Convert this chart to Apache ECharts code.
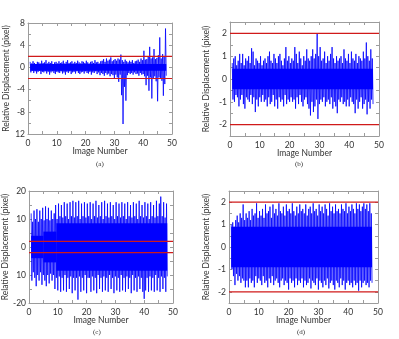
<!DOCTYPE html>
<html><head><meta charset="utf-8">
<script src="https://cdn.jsdelivr.net/npm/echarts@6/dist/echarts.min.js"></script>
<style>html,body{margin:0;padding:0;background:#fff}#c{width:399px;height:339px}</style>
</head><body><div id="c"></div>
<script>
// ---- data ----
const xTickValues = [0, 10, 20, 30, 40, 50];
const xTickLabels = ['0', '10', '20', '30', '40', '50'];
const xAxisTitle = 'Image Number';
const yAxisTitle = 'Relative Displacement (pixel)';
const panelCaptions = ['(a)', '(b)', '(c)', '(d)'];

const yTickValuesA = [-12, -8, -4, 0, 4, 8];
const yTickLabelsA = ['12', '-8', '-4', '0', '4', '8'];
const yTickValuesB = [-2, -1, 0, 1, 2];
const yTickLabelsB = ['-2', '-1', '0', '1', '2'];
const yTickValuesC = [-20, -10, 0, 10, 20];
const yTickLabelsC = ['-20', '10', '0', '10', '20'];
const yTickValuesD = [-2, -1, 0, 1, 2];
const yTickLabelsD = ['-2', '-1', '0', '1', '2'];

const thresholdA = [2, -2];
const thresholdB = [2, -2];
const thresholdC = [2, -2];
const thresholdD = [2, -2];

// extent of the solid (densely overdrawn) core of each band: [fromImage, toImage, upper, lower]
const coreA = [[0.75, 48, 0.6, -0.6]];
const coreB = [[0.75, 48, 0.45, -0.45]];
const coreC = [[0.75, 5, 4, -4], [5, 9.5, 5.5, -5.5], [9.5, 48, 8.5, -8.5]];
const coreD = [[0.75, 48, 0.9, -0.9]];

// sampled envelope: image numbers 0.75, 1.25, ... 47.75 (upper / lower excursions)
const firstSample = 0.75, sampleStep = 0.5;

const hiA = [1.0,0.7,1.1,0.8,0.6,1.0,0.9,0.7,1.2,0.8,
 0.9,1.3,0.7,1.0,0.8,1.1,0.6,0.9,1.0,0.7,
 1.1,0.8,0.9,1.2,0.7,1.0,1.3,0.8,0.9,1.1,
 0.7,1.0,0.8,1.2,0.9,0.7,1.1,1.0,0.8,1.2,
 0.9,0.7,1.0,1.1,0.8,1.3,0.9,1.0,0.7,1.1,
 1.2,1.5,1.0,1.6,1.2,1.4,1.8,1.1,1.3,1.5,
 1.2,1.6,1.4,2.3,1.3,1.0,1.4,1.1,0.9,1.2,
 1.0,1.3,0.8,1.1,1.2,1.4,1.0,1.6,1.3,3.0,
 1.4,1.5,2.0,3.7,1.6,1.8,3.3,1.5,1.7,2.2,
 5.4,1.6,2.4,2.0,7.0];
const loA = [-0.9,-0.6,-1.0,-0.7,-1.1,-0.8,-0.6,-1.2,-0.8,-0.9,
 -0.7,-1.1,-0.8,-1.3,-0.9,-0.7,-1.0,-1.2,-0.8,-0.9,
 -1.0,-0.7,-1.1,-0.9,-1.3,-0.8,-1.0,-0.7,-1.2,-0.9,
 -0.8,-1.1,-0.7,-1.0,-1.2,-0.9,-0.8,-1.1,-0.7,-1.0,
 -1.1,-0.8,-1.3,-0.9,-1.0,-0.7,-1.2,-0.9,-1.4,-1.0,
 -1.2,-1.5,-1.0,-1.3,-1.1,-1.6,-1.2,-1.4,-2.0,-1.3,
 -1.8,-2.6,-1.3,-5.0,-10.2,-3.5,-6.0,-1.4,-1.0,-1.2,
 -1.0,-1.3,-0.9,-1.2,-1.1,-1.5,-1.0,-1.3,-1.2,-1.6,
 -3.2,-1.5,-4.2,-1.8,-5.6,-2.0,-1.6,-2.5,-6.1,-1.8,
 -1.9,-2.4,-5.1,-3.0,-1.5];

const hiB = [0.7,0.9,1.0,0.6,0.8,1.1,0.7,1.1,0.6,0.9,
 0.8,1.0,0.7,1.35,1.2,0.6,0.9,0.8,0.7,1.0,
 0.6,0.8,0.9,0.7,1.0,1.2,0.8,0.7,1.1,0.9,
 0.7,1.0,1.1,0.8,0.6,0.9,1.4,0.8,1.0,0.7,
 0.9,0.8,1.4,1.1,0.7,1.2,0.9,0.6,1.0,0.8,
 1.3,0.9,0.8,1.0,1.3,0.9,1.1,2.0,1.0,1.4,
 0.8,0.9,1.2,0.7,1.0,0.8,1.1,1.4,0.9,0.7,
 1.0,0.8,0.9,1.0,0.7,1.3,0.9,0.8,1.1,0.7,
 1.2,0.9,0.8,1.1,0.7,1.0,0.9,0.8,1.2,0.9,
 1.6,1.0,0.8,1.3,0.9];
const loB = [-0.9,-1.0,-0.7,-0.8,-1.2,-0.9,-0.7,-1.1,-1.3,-0.8,
 -0.9,-1.0,-0.7,-1.1,-0.8,-1.45,-0.9,-1.2,-0.8,-1.0,
 -0.7,-1.0,-0.9,-1.2,-0.8,-1.1,-1.0,-0.7,-1.2,-0.9,
 -1.3,-0.8,-1.0,-0.9,-1.2,-0.7,-1.1,-0.9,-1.0,-0.8,
 -1.0,-0.9,-1.3,-0.8,-1.1,-0.7,-1.0,-1.2,-0.9,-0.8,
 -1.1,-1.3,-1.6,-1.0,-1.45,-1.2,-0.9,-1.75,-1.1,-0.9,
 -1.0,-0.8,-1.2,-1.0,-0.9,-1.1,-0.8,-1.3,-1.0,-1.2,
 -1.5,-0.9,-1.0,-0.8,-1.1,-1.0,-1.2,-0.9,-1.2,-0.8,
 -1.0,-1.1,-1.5,-0.9,-1.3,-1.0,-0.8,-1.3,-1.1,-0.9,
 -1.55,-1.0,-1.3,-0.9,-1.1];

const hiC = [12,9,13,10,13.5,9,13,10,14,9.5,
 14.5,10,14,9.5,13,10,12,15,10,15.5,
 11,15,10.5,16,11,15.5,10,16,11,16.5,
 10.5,16,11,16.5,10,15.5,11,16,10.5,15.5,
 11,16,10,15.5,11,16.5,10.5,15,11,16,
 10,16.5,11,15.5,10.5,16,11,15,10,16,
 11,15.5,10.5,16,11,15.5,10,16,11,15,
 10.5,16,11,15.5,10,16.5,11,15,10.5,16,
 11,15.5,10,16,11,15,10.5,16.5,11,15.5,
 18,11,16,10.5,15.5];
const loC = [-12,-9,-11,-14,-10,-12,-9,-13.5,-10,-12,
 -14,-10,-13,-9.5,-12,-10,-15,-11,-15.5,-10.5,
 -16,-11,-15.5,-10,-16,-11,-15,-10.5,-16.5,-11,
 -15.5,-11,-18.8,-10.5,-16,-11,-15.5,-10,-16.5,-11,
 -11,-16,-10.5,-15.5,-11,-16.5,-10,-15,-11,-16,
 -10.5,-15.5,-11,-16,-10,-15,-11,-16.5,-10.5,-15.5,
 -11,-16,-10,-15.5,-11,-16,-10.5,-15,-11,-16.5,
 -10,-15.5,-11,-16,-10.5,-15,-11,-16,-18.5,-15.5,
 -11,-16,-10.5,-15.5,-11,-16,-10,-15.5,-11,-16,
 -10.5,-15,-11,-16,-10.5];

const hiD = [1.0,1.1,0.9,1.2,1.4,1.1,1.5,1.3,1.9,1.2,
 1.5,1.3,1.6,1.2,1.7,1.4,1.5,1.95,1.3,1.6,
 1.4,1.7,1.3,1.9,1.5,1.6,1.8,1.3,1.9,1.5,
 1.7,1.4,1.95,1.6,1.5,1.8,1.4,1.9,1.6,1.7,
 1.5,1.95,1.6,1.4,1.8,1.5,1.9,1.6,1.7,1.5,
 1.9,1.4,1.7,1.8,1.5,1.95,1.6,1.7,1.4,1.9,
 1.6,1.8,1.5,1.9,1.7,1.4,1.95,1.6,1.8,1.5,
 1.9,1.6,1.7,1.5,1.9,1.7,1.6,1.95,1.5,1.8,
 1.6,1.9,1.7,1.5,1.95,1.7,1.9,1.6,1.8,1.95,
 1.7,1.9,1.6,1.95,1.5];
const loD = [-1.0,-1.3,-1.7,-1.2,-1.5,-1.3,-1.6,-1.4,-1.5,-1.8,
 -1.5,-1.8,-1.4,-1.6,-1.5,-1.8,-1.3,-1.6,-1.4,-1.5,
 -1.7,-1.3,-1.6,-1.5,-1.8,-1.4,-1.6,-1.3,-1.7,-1.5,
 -1.4,-1.6,-1.8,-1.5,-1.4,-1.7,-1.5,-1.6,-1.9,-1.4,
 -1.6,-1.5,-1.8,-1.4,-1.7,-1.5,-1.6,-1.4,-1.8,-1.5,
 -1.7,-1.6,-1.4,-1.85,-1.5,-1.6,-1.7,-1.4,-1.9,-1.5,
 -1.6,-1.8,-1.5,-1.7,-1.4,-1.85,-1.6,-1.5,-1.7,-1.9,
 -1.5,-1.6,-1.8,-1.4,-1.7,-1.5,-1.9,-1.6,-1.5,-1.7,
 -1.6,-1.8,-1.5,-1.7,-1.6,-1.95,-1.5,-1.8,-1.6,-1.5,
 -1.7,-1.6,-1.8,-1.5,-1.6];

// ---- layout / style ----
const FONT = 'Lato';
const FRAME = '#9c9c9c';
const TXT = '#333333';
const BLUE = '#0000ff';
const RED = '#d01a1a';
const X_MIN = xTickValues[0], X_MAX = xTickValues[xTickValues.length - 1];

const panels = [
  {grid:{left:28, top:23, width:144, height:111}, ymin:-12, ymax:8, yint:2, yv:yTickValuesA, yl:yTickLabelsA, hi:hiA, lo:loA, core:coreA, thr:thresholdA, cap:[103,167], nameGap:17.5},
  {grid:{left:230, top:22, width:149, height:114}, ymin:-2.5, ymax:2.5, yint:0.5, yv:yTickValuesB, yl:yTickLabelsB, hi:hiB, lo:loB, core:coreB, thr:thresholdB, cap:[302,167], nameGap:19},
  {grid:{left:28, top:191, width:145, height:112}, ymin:-20, ymax:20, yint:5, yv:yTickValuesC, yl:yTickLabelsC, hi:hiC, lo:loC, core:coreC, thr:thresholdC, cap:[100,335], nameGap:19},
  {grid:{left:229, top:191, width:149, height:112}, ymin:-2.5, ymax:2.5, yint:0.5, yv:yTickValuesD, yl:yTickLabelsD, hi:hiD, lo:loD, core:coreD, thr:thresholdD, cap:[304,335], nameGap:18}
];

function labelFor(values, labels) {
  return function (v) {
    for (let k = 0; k < values.length; k++) if (Math.abs(values[k] - v) < 1e-9) return labels[k];
    return '';
  };
}

const grid = [], xAxis = [], yAxis = [], series = [], graphic = [];
panels.forEach((p, gi) => {
  grid.push(Object.assign({show:false}, p.grid));
  const common = {
    axisLine:{show:true, onZero:false, lineStyle:{color:FRAME, width:1}},
    axisTick:{show:true, inside:true, length:3, lineStyle:{color:FRAME, width:1}},
    splitLine:{show:false}
  };
  xAxis.push(Object.assign({}, common, {
    gridIndex:gi, type:'value', min:X_MIN, max:X_MAX, interval:5, position:'bottom',
    name:xAxisTitle, nameLocation:'middle', nameGap:13, nameMoveOverlap:false,
    nameTextStyle:{fontFamily:FONT, fontSize:8.5, color:TXT},
    axisLabel:{show:true, margin:5, fontFamily:FONT, fontSize:8.5, color:TXT,
      formatter:labelFor(xTickValues, xTickLabels), showMinLabel:true, showMaxLabel:true}
  }));
  xAxis.push(Object.assign({}, common, {
    gridIndex:gi, type:'value', min:X_MIN, max:X_MAX, interval:5, position:'top',
    axisLabel:{show:false}
  }));
  yAxis.push(Object.assign({}, common, {
    gridIndex:gi, type:'value', min:p.ymin, max:p.ymax, interval:p.yint, position:'left',
    name:yAxisTitle, nameLocation:'middle', nameGap:p.nameGap, nameRotate:90, nameMoveOverlap:false,
    nameTextStyle:{fontFamily:FONT, fontSize:8.5, color:TXT},
    axisLabel:{show:true, margin:3, fontFamily:FONT, fontSize:8.5, color:TXT,
      formatter:labelFor(p.yv, p.yl), showMinLabel:true, showMaxLabel:true}
  }));
  yAxis.push(Object.assign({}, common, {
    gridIndex:gi, type:'value', min:p.ymin, max:p.ymax, interval:p.yint, position:'right',
    axisLabel:{show:false}
  }));
  const data = [];
  for (let i = 0; i < p.hi.length; i++) {
    const x = firstSample + i * sampleStep;
    data.push([x, p.hi[i]]);
    data.push([x + sampleStep / 2, p.lo[i]]);
  }
  series.push({
    type:'line', xAxisIndex:gi*2, yAxisIndex:gi*2, data:data, z:2,
    showSymbol:false, symbol:'none', animation:false, silent:true,
    lineStyle:{color:BLUE, width:0.8},
    markArea:{silent:true, animation:false, itemStyle:{color:BLUE, opacity:1},
      data:p.core.map(c => [{xAxis:c[0], yAxis:c[3]}, {xAxis:c[1], yAxis:c[2]}])}
  });
  p.thr.forEach(v => {
    series.push({
      type:'line', xAxisIndex:gi*2, yAxisIndex:gi*2, z:20, zlevel:0,
      data:[[X_MIN, v], [X_MAX, v]],
      showSymbol:false, symbol:'none', animation:false, silent:true,
      lineStyle:{color:RED, width:1.2}
    });
  });
  graphic.push({type:'text', left:p.cap[0]-7, top:p.cap[1]-6, z:100,
    style:{text:panelCaptions[gi], font:'7px "Liberation Serif"', fill:'#333'}});
});

const chart = echarts.init(document.getElementById('c'), null, {renderer:'canvas'});
chart.setOption({animation:false, grid, xAxis, yAxis, series, graphic});
</script></body></html>
